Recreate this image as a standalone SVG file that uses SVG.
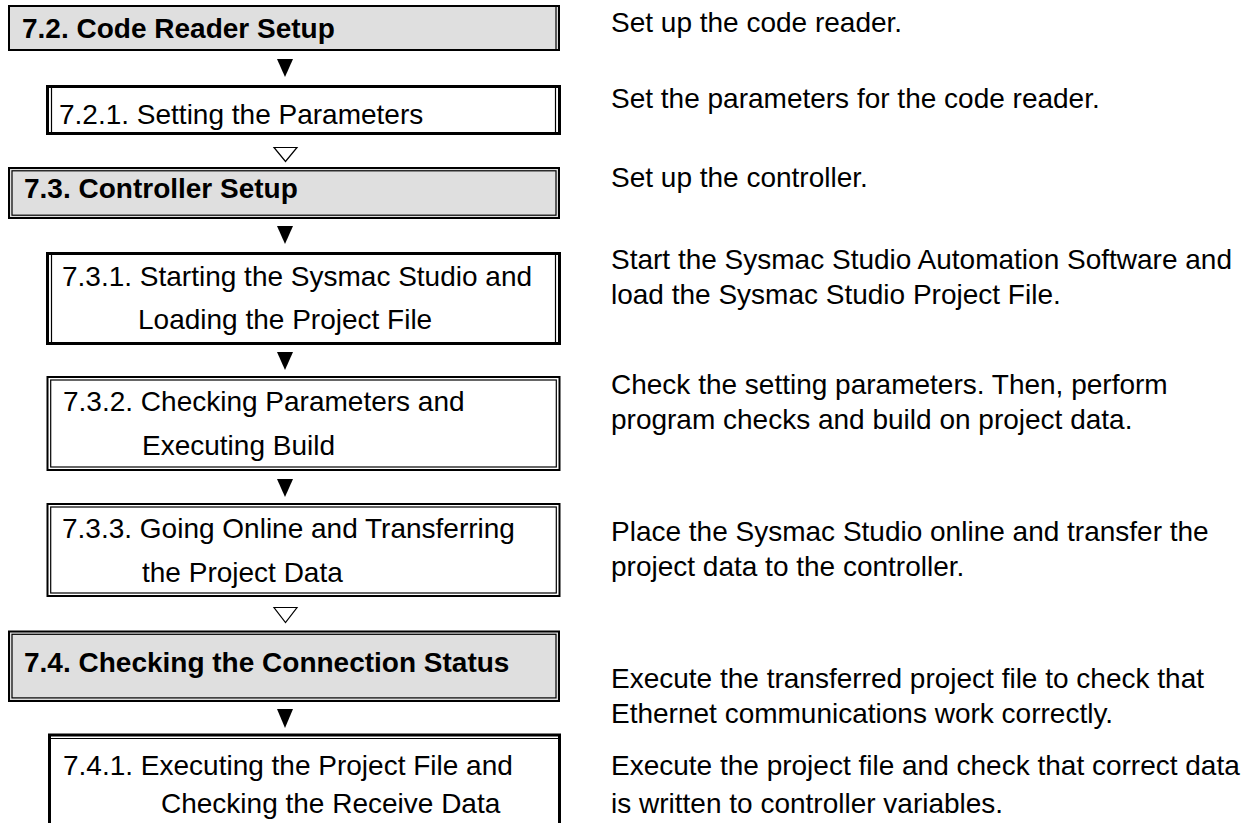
<svg xmlns="http://www.w3.org/2000/svg" width="1251" height="823" viewBox="0 0 1251 823">
<style>
text{font-family:"Liberation Sans",Arial,sans-serif;font-size:28px;fill:#000}
.h{font-weight:bold}
.gray{fill:#dfdfdf}
.white{fill:#fff}
.o2{fill:none;stroke:#000;stroke-width:2}
.o3{fill:none;stroke:#000;stroke-width:3}
.i1{fill:none;stroke:#000;stroke-width:1.2}
.arr{fill:#000}
.oarr{fill:#fff;stroke:#000;stroke-width:1.2;stroke-linejoin:miter}
</style>
<rect width="1251" height="823" fill="#fff"/>

<g id="connectors">
<polygon class="arr" points="277,59 293,59 285,77"/>
<polygon class="oarr" points="274,147.5 297,147.5 285.5,161.5"/>
<polygon class="arr" points="277,226 293,226 285,244"/>
<polygon class="arr" points="277,352 293,352 285,370"/>
<polygon class="arr" points="277,479 293,479 285,497"/>
<polygon class="oarr" points="274,607.5 297,607.5 285.5,622.5"/>
<polygon class="arr" points="277,709 293,709 285,728"/>
</g>

<g id="n72">
<rect class="gray" x="9" y="6" width="550" height="44"/>
<rect class="o2" x="9" y="6" width="550" height="44"/>
<line class="i1" x1="556" y1="6" x2="556" y2="50"/>
<text class="h" x="22" y="38">7.2. Code Reader Setup</text>
</g>

<g id="n721">
<rect class="white" x="47.5" y="86.5" width="512" height="47"/>
<rect class="o3" x="47.5" y="86.5" width="512" height="47"/>
<line class="i1" x1="51.5" y1="88" x2="51.5" y2="132"/>
<line class="i1" x1="555.5" y1="88" x2="555.5" y2="132"/>
<text x="59" y="124">7.2.1. Setting the Parameters</text>
</g>

<g id="n73">
<rect class="gray" x="9" y="168" width="550" height="50"/>
<rect class="o2" x="9" y="168" width="550" height="50"/>
<rect class="i1" x="12" y="170.8" width="544" height="44.4"/>
<text class="h" x="24" y="198">7.3. Controller Setup</text>
</g>

<g id="n731">
<rect class="white" x="47.5" y="253.5" width="512" height="90"/>
<rect class="o3" x="47.5" y="253.5" width="512" height="90"/>
<line class="i1" x1="51.5" y1="255" x2="51.5" y2="342"/>
<line class="i1" x1="555.5" y1="255" x2="555.5" y2="342"/>
<text x="62" y="286">7.3.1. Starting the Sysmac Studio and</text>
<text x="138" y="329">Loading the Project File</text>
</g>

<g id="n732">
<rect class="white" x="47.5" y="377" width="512" height="93"/>
<rect class="o2" x="47.5" y="377" width="512" height="93"/>
<rect class="i1" x="50.7" y="380" width="505.6" height="87"/>
<text x="63" y="411">7.3.2. Checking Parameters and</text>
<text x="142" y="455">Executing Build</text>
</g>

<g id="n733">
<rect class="white" x="47.5" y="504" width="512" height="92"/>
<rect class="o2" x="47.5" y="504" width="512" height="92"/>
<rect class="i1" x="50.7" y="507" width="505.6" height="86"/>
<text x="62" y="538">7.3.3. Going Online and Transferring</text>
<text x="142" y="582">the Project Data</text>
</g>

<g id="n74">
<rect class="gray" x="9" y="631.5" width="550" height="69.5"/>
<rect class="o2" x="9" y="631.5" width="550" height="69.5"/>
<rect class="i1" x="12" y="634.3" width="544" height="63.6"/>
<text class="h" x="24" y="672">7.4. Checking the Connection Status</text>
</g>

<g id="n741">
<rect class="white" x="49.5" y="735" width="510" height="100"/>
<rect class="o3" x="49.5" y="735" width="510" height="100"/>
<line class="i1" x1="51" y1="738.5" x2="558" y2="738.5"/>
<text x="63" y="775">7.4.1. Executing the Project File and</text>
<text x="161" y="813">Checking the Receive Data</text>
</g>

<g id="descriptions">
<text x="611" y="32">Set up the code reader.</text>
<text x="611" y="108">Set the parameters for the code reader.</text>
<text x="611" y="187">Set up the controller.</text>
<text x="611" y="269">Start the Sysmac Studio Automation Software and</text>
<text x="611" y="304">load the Sysmac Studio Project File.</text>
<text x="611" y="394">Check the setting parameters. Then, perform</text>
<text x="611" y="429">program checks and build on project data.</text>
<text x="611" y="541">Place the Sysmac Studio online and transfer the</text>
<text x="611" y="576">project data to the controller.</text>
<text x="611" y="688">Execute the transferred project file to check that</text>
<text x="611" y="723">Ethernet communications work correctly.</text>
<text x="611" y="775">Execute the project file and check that correct data</text>
<text x="611" y="813">is written to controller variables.</text>
</g>
</svg>
